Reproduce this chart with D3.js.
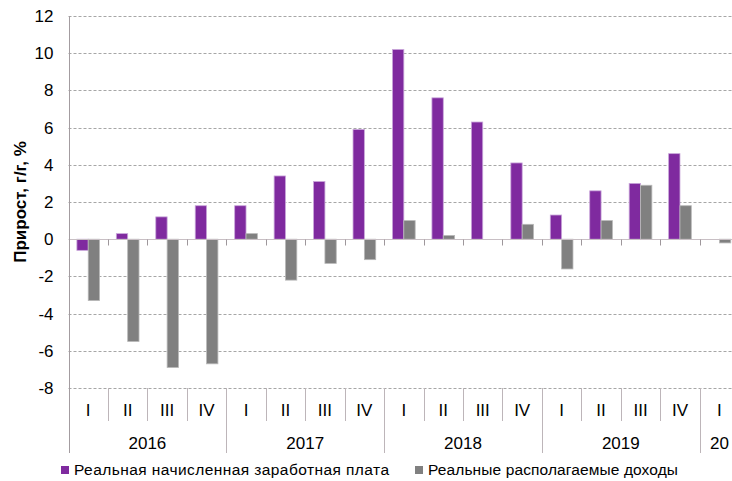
<!DOCTYPE html>
<html>
<head>
<meta charset="utf-8">
<script src="https://cdn.jsdelivr.net/npm/d3@7"></script>
<style>
  body { margin: 0; background: #fff; }
  svg { display: block; font-family: "Liberation Sans", Arial, sans-serif; }
</style>
</head>
<body>
<div id="container"></div>
<script>
// data
var quarters = ["I", "II", "III", "IV", "I", "II", "III", "IV", "I", "II", "III", "IV", "I", "II", "III", "IV", "I"];
var years = ["2016", "2017", "2018", "2019", "20"];
var yearSpans = [4, 4, 4, 4, 1];
var wages = [-0.6, 0.3, 1.2, 1.8, 1.8, 3.4, 3.1, 5.9, 10.2, 7.6, 6.3, 4.1, 1.3, 2.6, 3.0, 4.6, 0];
var incomes = [-3.3, -5.5, -6.9, -6.7, 0.3, -2.2, -1.3, -1.1, 1.0, 0.2, 0, 0.8, -1.6, 1.0, 2.9, 1.8, -0.2];
var seriesNames = ["Реальная начисленная заработная плата", "Реальные располагаемые доходы"];
var yTicks = [-8, -6, -4, -2, 0, 2, 4, 6, 8, 10, 12];

function load() {
	var W = 732, H = 481;
	// plot area (the last category runs past the right edge, as in the original)
	var left = 68.5, top = 16, bottom = 388;
	var right = left + 17 * 39.45;

	var colors = ["#7f2a9f", "#808080"];
	var strokes = ["#c9a6da", "#b8b8b8"];

	var svg = d3.select("#container")
		.append("svg")
		.attr("width", W)
		.attr("height", H);

	var xScale = d3.scaleBand()
		.domain(d3.range(quarters.length))
		.range([left, right])
		.padding(0);

	var yScale = d3.scaleLinear()
		.domain([-8, 12])
		.range([bottom, top]);

	var bw = xScale.bandwidth();
	var barW = bw * 0.2875;
	var inner = d3.scaleBand().domain([0, 1]).range([bw / 2 - barW, bw / 2 + barW]);

	// gridlines
	svg.append("g")
		.selectAll("line")
		.data(yTicks.filter(function(d) { return d !== 0; }))
		.enter().append("line")
		.attr("x1", left)
		.attr("x2", W)
		.attr("y1", function(d) { return Math.round(yScale(d)) + 0.5; })
		.attr("y2", function(d) { return Math.round(yScale(d)) + 0.5; })
		.attr("stroke", "#a6a6a6")
		.attr("stroke-dasharray", "3,2");

	// bars
	var series = [wages, incomes];
	series.forEach(function(vals, s) {
		svg.append("g")
			.selectAll("rect")
			.data(vals)
			.enter().append("rect")
			.attr("x", function(d, i) { return xScale(i) + inner(s); })
			.attr("width", inner.bandwidth())
			.attr("y", function(d) { return yScale(Math.max(0, d)); })
			.attr("height", function(d) { return Math.abs(yScale(d) - yScale(0)); })
			.attr("fill", colors[s])
			.attr("stroke", function(d) { return d === 0 ? "none" : strokes[s]; })
			.attr("stroke-width", 0.8);
	});

	// zero line + ticks
	var y0 = Math.round(yScale(0)) + 0.5;
	svg.append("line")
		.attr("x1", left).attr("x2", W)
		.attr("y1", y0).attr("y2", y0)
		.attr("stroke", "#c8bfc4").attr("stroke-width", 1.2);

	var bounds = d3.range(quarters.length + 1).map(function(i) { return left + i * bw; });
	svg.append("g")
		.selectAll("line")
		.data(bounds.slice(1))
		.enter().append("line")
		.attr("x1", function(d) { return Math.round(d) + 0.5; })
		.attr("x2", function(d) { return Math.round(d) + 0.5; })
		.attr("y1", y0)
		.attr("y2", y0 + 6)
		.attr("stroke", "#9e979b");

	// bottom category separators
	svg.append("g")
		.selectAll("line")
		.data(bounds.slice(1))
		.enter().append("line")
		.attr("x1", function(d) { return Math.round(d) + 0.5; })
		.attr("x2", function(d) { return Math.round(d) + 0.5; })
		.attr("y1", bottom)
		.attr("y2", function(d, i) { return (i + 1) % 4 === 0 ? 453 : 421; })
		.attr("stroke", "#bdb5b9");

	// y axis (plain hyphen for negatives, like the original)
	var yAxis = svg.append("g")
		.attr("transform", "translate(" + (Math.round(left) + 0.5) + ",0)")
		.call(d3.axisLeft(yScale).tickValues(yTicks).tickSize(0).tickPadding(16)
			.tickFormat(function(d) { return String(d); }));
	yAxis.select(".domain").remove();
	yAxis.selectAll("text")
		.style("font-size", "17px")
		.style("font-family", "Liberation Sans, Arial, sans-serif")
		.attr("fill", "#000");
	yAxis.append("line")
		.attr("y1", top).attr("y2", 453)
		.attr("stroke", "#a39ca0");

	// y title
	svg.append("text")
		.attr("transform", "translate(26," + yScale(2) + ") rotate(-90)")
		.attr("text-anchor", "middle")
		.style("font-size", "17px")
		.style("font-weight", "bold")
		.text("Прирост, г/г, %");

	// quarter labels
	svg.append("g")
		.selectAll("text")
		.data(quarters)
		.enter().append("text")
		.attr("x", function(d, i) { return xScale(i) + bw / 2; })
		.attr("y", 416)
		.attr("text-anchor", "middle")
		.style("font-size", "17px")
		.text(function(d) { return d; });

	// year labels
	var start = 0;
	years.forEach(function(y, k) {
		var span = yearSpans[k];
		svg.append("text")
			.attr("x", xScale(start) + span * bw / 2)
			.attr("y", 449)
			.attr("text-anchor", "middle")
			.style("font-size", "17px")
			.text(y);
		start += span;
	});

	// legend
	var legendX = [61, 415];
	var legendW = [315, 250];
	seriesNames.forEach(function(name, s) {
		svg.append("rect")
			.attr("x", legendX[s]).attr("y", 466)
			.attr("width", 8).attr("height", 8)
			.attr("fill", colors[s]);
		svg.append("text")
			.attr("x", legendX[s] + 13)
			.attr("y", 475)
			.attr("textLength", legendW[s])
			.attr("lengthAdjust", "spacing")
			.style("font-size", "15.5px")
			.text(name);
	});
}
load();
</script>
</body>
</html>
